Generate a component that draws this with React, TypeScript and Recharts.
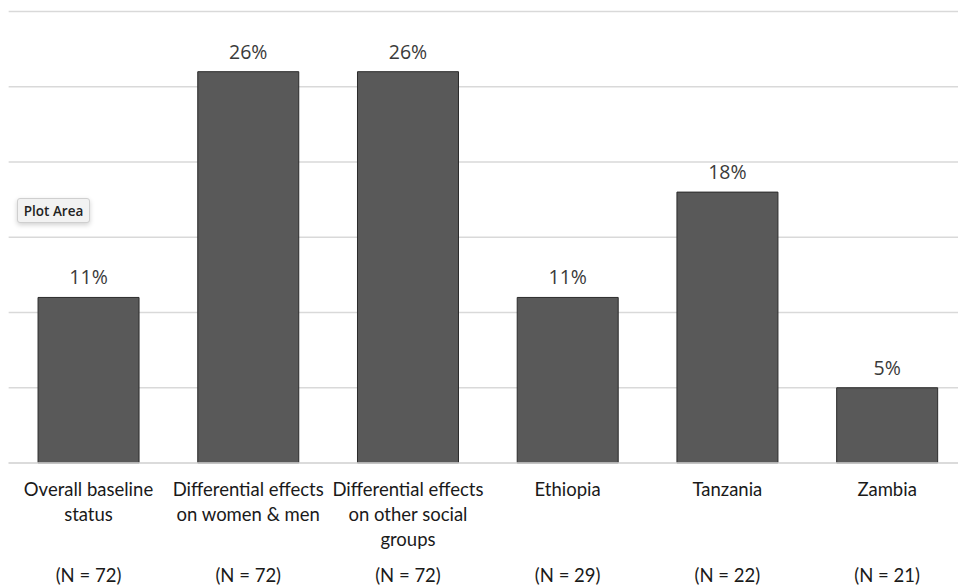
import React from 'react';
import { BarChart, Bar, XAxis, YAxis, CartesianGrid, LabelList } from 'recharts';

const categories = [
  'Overall baseline\nstatus',
  'Differential effects\non women & men',
  'Differential effects\non other social\ngroups',
  'Ethiopia',
  'Tanzania',
  'Zambia',
];
const sampleSizes = ['(N = 72)', '(N = 72)', '(N = 72)', '(N = 29)', '(N = 22)', '(N = 21)'];
const percents = [11, 26, 26, 11, 18, 5];
const yTicks = [0, 5, 10, 15, 20, 25, 30];

const data = categories.map((name, i) => ({ name, n: sampleSizes[i], value: percents[i] }));

const CategoryTick = (props: any) => {
  const { x, payload, index } = props;
  const lines = String(payload.value).split('\n');
  return (
    <g>
      {lines.map((line, i) => (
        <text
          key={i}
          x={x}
          y={463 + 33 + i * 25}
          textAnchor="middle"
          fontFamily="Lato, 'Open Sans', sans-serif"
          fontSize={18.5}
          fill="#1a1a1a"
        >
          {line}
        </text>
      ))}
      <text
        x={x}
        y={582}
        textAnchor="middle"
        fontFamily="Lato, 'Open Sans', sans-serif"
        fontSize={18.5}
        fill="#1a1a1a"
      >
        {sampleSizes[index]}
      </text>
    </g>
  );
};

export default function App() {
  return (
    <div
      style={{
        position: 'absolute',
        left: 0,
        top: 0,
        width: 958,
        height: 586,
        overflow: 'hidden',
        background: '#fff',
      }}
    >
      <BarChart
        width={967}
        height={586}
        data={data}
        margin={{ top: 11.5, right: 0, bottom: 0, left: 8.65 }}
        barCategoryGap="18.4%"
      >
        <CartesianGrid vertical={false} stroke="#d9d9d9" strokeWidth={1.5} />
        <XAxis
          dataKey="name"
          height={123}
          axisLine={{ stroke: '#d9d9d9', strokeWidth: 1.5 }}
          tickLine={false}
          interval={0}
          tick={<CategoryTick />}
        />
        <YAxis hide domain={[0, 30]} ticks={yTicks} />
        <Bar dataKey="value" fill="#595959" stroke="#2b2b2b" strokeWidth={1} isAnimationActive={false}>
          <LabelList
            dataKey="value"
            position="top"
            offset={13}
            formatter={(v: any) => `${v}%`}
            style={{ fontFamily: "'Open Sans', sans-serif", fontSize: 19.5, fill: '#3a3a3a' }}
          />
        </Bar>
      </BarChart>
      <div
        style={{
          position: 'absolute',
          left: 17,
          top: 198,
          width: 73,
          height: 25,
          boxSizing: 'border-box',
          background: '#f2f2f2',
          border: '1px solid #cfcfcf',
          borderRadius: 3,
          boxShadow: '0 2px 5px rgba(0,0,0,0.18)',
          fontFamily: "'Open Sans', sans-serif",
          fontSize: 13.5,
          fontWeight: 600,
          color: '#222',
          display: 'flex',
          alignItems: 'center',
          justifyContent: 'center',
        }}
      >
        Plot Area
      </div>
    </div>
  );
}
